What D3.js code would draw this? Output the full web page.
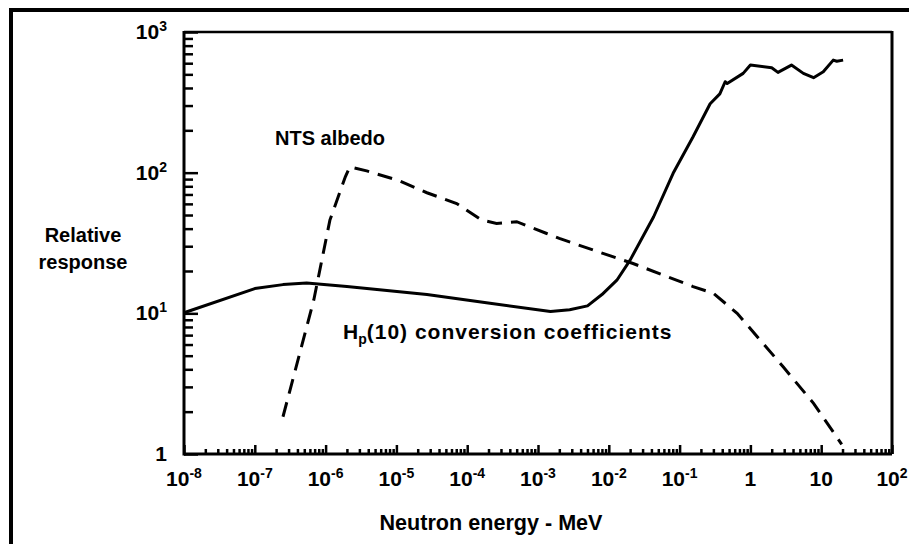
<!DOCTYPE html>
<html><head><meta charset="utf-8">
<script src="https://cdn.jsdelivr.net/npm/d3@7"></script>
<style>
body{margin:0;background:#fff}
text{font-family:"Liberation Sans",Arial,sans-serif;font-weight:bold;fill:#000}
</style></head>
<body><svg id="c" width="909" height="544"></svg>
<script>
// Hp(10) conversion coefficients (solid)
const hpEnergy = [1e-8, 1e-7, 2.5e-7, 5.4e-7, 2e-6, 2.7e-5, 2.1e-4, 1.5e-3, 2.8e-3, 5e-3, 8e-3, 1.3e-2, 2e-2, 4.3e-2, 8.1e-2, 0.155, 0.27, 0.37, 0.44, 0.47, 0.79, 1.0, 2.0, 2.45, 3.8, 5.6, 7.8, 10.7, 14.8, 16.6, 20.4];
const hpValue  = [10.1, 15.0, 16.0, 16.4, 15.5, 13.6, 11.8, 10.3, 10.6, 11.3, 13.6, 17.2, 23.9, 48.6, 98.9, 180, 309, 363, 443, 430, 508, 582, 557, 516, 582, 508, 473, 521, 631, 620, 631];
// NTS albedo (dashed)
const ntsEnergy = [2.5e-7, 6.8e-7, 1.15e-6, 1.9e-6, 2.2e-6, 3.8e-6, 1.1e-5, 2.7e-5, 7.1e-5, 1.6e-4, 2.6e-4, 5e-4, 1.3e-3, 2e-3, 6e-3, 2.2e-2, 0.155, 0.3, 0.65, 2.9, 7.8, 19.5];
const ntsValue  = [1.84, 12.4, 46, 93.5, 110, 103, 87.7, 72, 60.3, 46, 43.6, 44.8, 37.1, 34.1, 28.2, 22.6, 15.5, 13.9, 10.0, 4.17, 2.29, 1.17];
// axis ticks
const xTickValues = [1e-8,1e-7,1e-6,1e-5,1e-4,1e-3,1e-2,1e-1,1,10,100];
const xTickBase   = ["10","10","10","10","10","10","10","10","1","10","10"];
const xTickExp    = ["-8","-7","-6","-5","-4","-3","-2","-1","","","2"];
const yTickValues = [1,10,100,1000];
const yTickBase   = ["1","10","10","10"];
const yTickExp    = ["","1","2","3"];
const xTitle = "Neutron energy - MeV";
const yTitle = ["Relative","response"];

const svg = d3.select("#c");
const L=184,R=892,T=32,B=454;
const x = d3.scaleLog().domain([1e-8,1e2]).range([L,R]);
const y = d3.scaleLog().domain([1,1e3]).range([B,T]);

// outer frame
svg.append("rect").attr("x",11).attr("y",10).attr("width",1000).attr("height",1000)
  .attr("fill","none").attr("stroke","#000").attr("stroke-width",4);

// minor ticks
const xMinor=[], yMinor=[];
for(let e=-8;e<2;e++) for(let m=2;m<=9;m++) xMinor.push(m*Math.pow(10,e));
for(let e=0;e<3;e++) for(let m=2;m<=9;m++) yMinor.push(m*Math.pow(10,e));

function styleAxis(g,w){ g.select(".domain").remove(); g.selectAll("line").attr("stroke","#000").attr("stroke-width",w); g.selectAll("text").remove(); }

svg.append("g").attr("transform",`translate(0,${B})`)
  .call(d3.axisBottom(x).tickValues(xMinor).tickSize(-5).tickFormat(""))
  .call(g=>styleAxis(g,2.5));
svg.append("g").attr("transform",`translate(0,${B})`)
  .call(d3.axisBottom(x).tickValues(xTickValues).tickSize(-9).tickFormat(""))
  .call(g=>styleAxis(g,2.5));
svg.append("g").attr("transform",`translate(${L},0)`)
  .call(d3.axisLeft(y).tickValues(yMinor).tickSize(-9).tickFormat(""))
  .call(g=>styleAxis(g,2.5));
svg.append("g").attr("transform",`translate(${L},0)`)
  .call(d3.axisLeft(y).tickValues(yTickValues).tickSize(-14).tickFormat(""))
  .call(g=>styleAxis(g,2.5));

// box
svg.append("line").attr("x1",L).attr("x2",R).attr("y1",T).attr("y2",T).attr("stroke","#000").attr("stroke-width",2.5);
svg.append("line").attr("x1",R).attr("x2",R).attr("y1",T-1).attr("y2",B).attr("stroke","#000").attr("stroke-width",3);
svg.append("line").attr("x1",L).attr("x2",R).attr("y1",B).attr("y2",B).attr("stroke","#000").attr("stroke-width",3);
svg.append("line").attr("x1",L).attr("x2",L).attr("y1",T-1).attr("y2",B+1.5).attr("stroke","#000").attr("stroke-width",3);

// tick labels
xTickValues.forEach((v,i)=>{
  const t=svg.append("text").attr("x",x(v)).attr("y",B+32).attr("text-anchor","middle").style("font-size","21px");
  t.append("tspan").text(xTickBase[i]);
  if(xTickExp[i]) t.append("tspan").attr("dy",-8).style("font-size","14px").text(xTickExp[i]);
});
yTickValues.forEach((v,i)=>{
  const t=svg.append("text").attr("x",167).attr("y",y(v)+7).attr("text-anchor","end").style("font-size","21px");
  t.append("tspan").text(yTickBase[i]);
  if(yTickExp[i]) t.append("tspan").attr("dy",-8).style("font-size","14px").text(yTickExp[i]);
});

// titles
svg.append("text").attr("x",491).attr("y",530).attr("text-anchor","middle").style("font-size","21.5px")
  .attr("textLength",223).attr("lengthAdjust","spacingAndGlyphs").text(xTitle);
yTitle.forEach((s,i)=>svg.append("text").attr("x",83).attr("y",242+i*27).attr("text-anchor","middle").style("font-size","20px").text(s));

// curves
const line = d3.line().x(d=>x(d[0])).y(d=>y(d[1]));
svg.append("path").datum(hpEnergy.map((e,i)=>[e,hpValue[i]]))
  .attr("d",line).attr("fill","none").attr("stroke","#000").attr("stroke-width",3).attr("stroke-linejoin","round");
svg.append("path").datum(ntsEnergy.map((e,i)=>[e,ntsValue[i]]))
  .attr("d",line).attr("fill","none").attr("stroke","#000").attr("stroke-width",3).attr("stroke-dasharray","15,9");

// annotations
svg.append("text").attr("x",275).attr("y",145).style("font-size","20px")
  .attr("textLength",110).attr("lengthAdjust","spacingAndGlyphs").text("NTS albedo");
const hp=svg.append("text").attr("x",343).attr("y",339).style("font-size","21px");
hp.append("tspan").text("H");
hp.append("tspan").attr("dy",5).style("font-size","14px").text("p");
hp.append("tspan").attr("dy",-5).style("letter-spacing","1px").text("(10) conversion coefficients");
</script></body></html>
